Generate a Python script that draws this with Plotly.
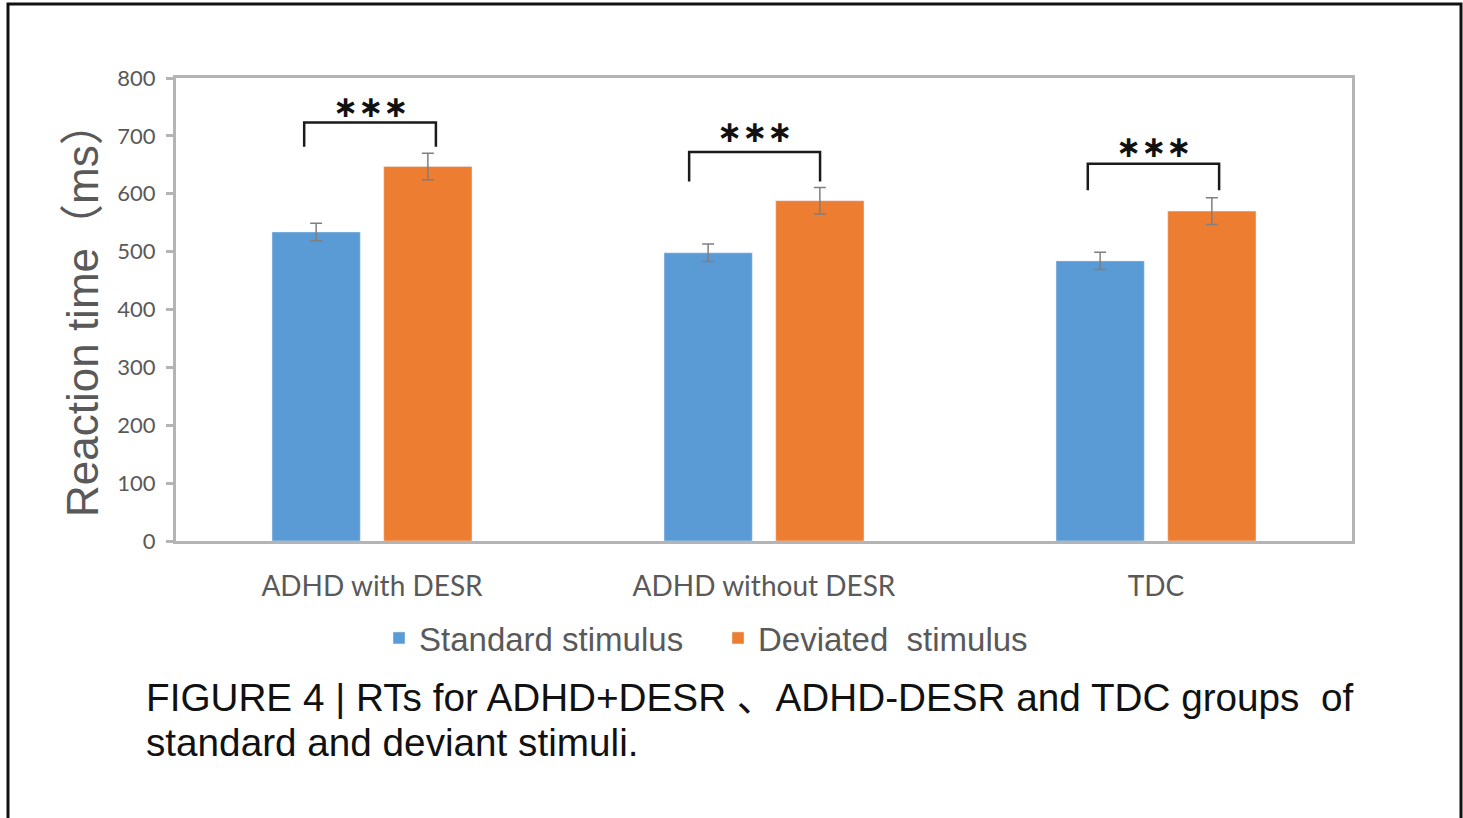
import plotly.graph_objects as go

categories = ["ADHD with DESR", "ADHD without DESR", "TDC"]
standard = [534, 498, 484]
standard_err = [15, 15, 15]
deviated = [647, 588, 570]
deviated_err = [23, 23, 23]
series_names = ["Standard stimulus", "Deviated\u00a0 stimulus"]
y_ticks = [0, 100, 200, 300, 400, 500, 600, 700, 800]

# significance brackets (data units)
bracket_top = [723, 672, 652]
bracket_leg = [681, 621, 606]
star_y = [750, 707, 681]
star_text = ["∗∗∗", "∗∗∗", "∗∗∗"]

W, H = 1463, 818
L, R, T, B = 176, 1352, 78, 541

BLUE = "#5B9BD5"
ORANGE = "#ED7D31"
AXIS = "#B4B4B4"
TXT = "#595959"

fig = go.Figure()
fig.add_trace(go.Bar(
    x=categories, y=standard, name=series_names[0], marker_color=BLUE,
    error_y=dict(type="data", array=standard_err, color="#7F7F7F", thickness=1.5, width=6),
))
fig.add_trace(go.Bar(
    x=categories, y=deviated, name=series_names[1], marker_color=ORANGE,
    error_y=dict(type="data", array=deviated_err, color="#7F7F7F", thickness=1.5, width=6),
))

def px2paper_x(px):
    return (px - L) / (R - L)

def px2paper_y(py):
    return (B - py) / (B - T)

shapes = []
annotations = []
left_off = [-0.173, -0.191, -0.174]
right_off = [0.163, 0.143, 0.161]
for i in range(len(categories)):
    xl = i + left_off[i]
    xr = i + right_off[i]
    shapes.append(dict(
        type="path", xref="x", yref="y",
        path=f"M {xl},{bracket_leg[i]} L {xl},{bracket_top[i]} L {xr},{bracket_top[i]} L {xr},{bracket_leg[i]}",
        line=dict(color="#1a1a1a", width=2.5),
    ))
    annotations.append(dict(
        x=(xl + xr) / 2, y=star_y[i], xref="x", yref="y", text=star_text[i],
        showarrow=False, font=dict(family="DejaVu Sans", size=30, color="#111111", weight="bold"),
        xanchor="center", yanchor="middle",
    ))

# outer border
shapes.append(dict(
    type="rect", xref="paper", yref="paper",
    x0=px2paper_x(8), x1=px2paper_x(1461), y0=px2paper_y(835), y1=px2paper_y(4),
    line=dict(color="#111111", width=3), fillcolor="rgba(0,0,0,0)", layer="below",
))

annotations.append(dict(
    x=px2paper_x(82), y=px2paper_y(309), xref="paper", yref="paper",
    text="Reaction time（ms）", textangle=-90, showarrow=False,
    font=dict(family="Liberation Sans, Noto Sans CJK SC", size=44, color=TXT),
    xanchor="center", yanchor="middle",
))
annotations.append(dict(
    x=px2paper_x(144), y=px2paper_y(697), xref="paper", yref="paper",
    text="FIGURE 4 | RTs for ADHD+DESR 、ADHD-DESR and TDC groups\u00a0 of",
    showarrow=False, align="left",
    font=dict(family="Liberation Sans, Noto Sans CJK SC", size=38.7, color="#111111"),
    xanchor="left", yanchor="middle",
))
annotations.append(dict(
    x=px2paper_x(144), y=px2paper_y(742), xref="paper", yref="paper",
    text="standard and deviant stimuli.",
    showarrow=False, align="left",
    font=dict(family="Liberation Sans, Noto Sans CJK SC", size=38.7, color="#111111"),
    xanchor="left", yanchor="middle",
))

fig.update_layout(
    width=W, height=H,
    margin=dict(l=L, r=W - R, t=T, b=H - B),
    paper_bgcolor="white", plot_bgcolor="white",
    barmode="group", bargap=0.43, bargroupgap=0.21,
    showlegend=True,
    legend=dict(
        orientation="h", x=px2paper_x(379), y=px2paper_y(638),
        xanchor="left", yanchor="middle",
        font=dict(family="Liberation Sans", size=33, color=TXT),
        itemwidth=30, entrywidth=294, entrywidthmode="pixels",
    ),
    shapes=shapes,
    annotations=annotations,
    xaxis=dict(
        showline=True, linecolor=AXIS, linewidth=3, mirror=True,
        showgrid=False, ticks="", ticklabelstandoff=18,
        tickfont=dict(family="Lato", size=28, color=TXT),
    ),
    yaxis=dict(
        range=[0, 800], tickvals=y_ticks,
        showline=True, linecolor=AXIS, linewidth=3, mirror=True,
        showgrid=False, ticks="outside", ticklen=7, tickwidth=3, tickcolor=AXIS,
        ticklabelstandoff=6,
        tickfont=dict(family="Lato", size=22, color=TXT),
        zeroline=False,
    ),
)

fig.write_html("out.html", config={"displayModeBar": False},
               post_script="document.body.style.margin='0';")
